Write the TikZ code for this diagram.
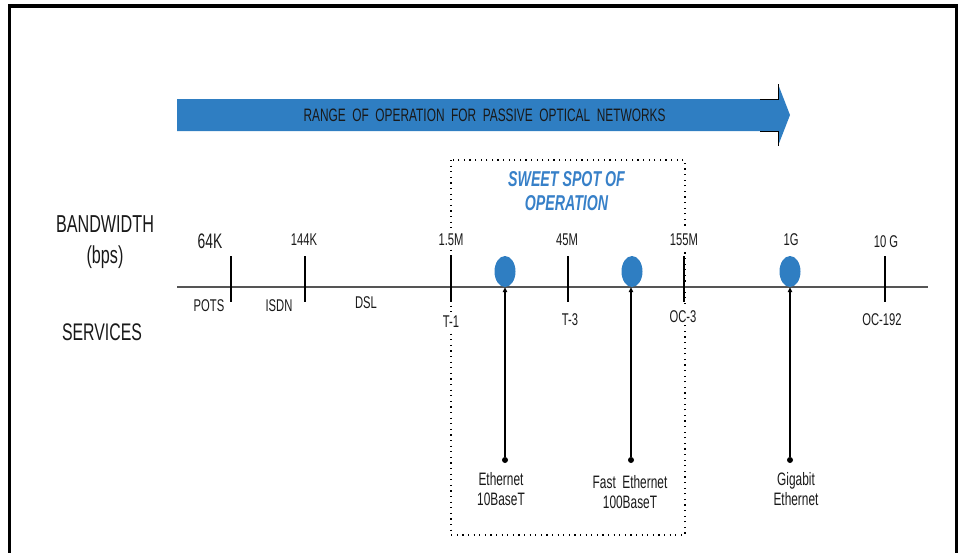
\documentclass[tikz,border=0pt]{standalone}
\usepackage{fontspec}
\setmainfont{Liberation Sans}[FakeStretch=0.66]
\usetikzlibrary{arrows.meta,shapes.geometric}
\definecolor{ponblue}{RGB}{47,126,194}
\definecolor{spotblue}{RGB}{55,128,200}
\definecolor{axisgray}{RGB}{85,85,85}
\definecolor{ink}{RGB}{25,25,25}
\newcommand{\fsz}[1]{\fontsize{#1}{#1}\selectfont}

\begin{document}
\begin{tikzpicture}[x=1pt,y=-1pt,
  lbl/.style={inner sep=0pt, anchor=base, text=ink, font=\fsz{17}},
  svc/.style={lbl, font=\fsz{17}},
  side/.style={lbl, font=\fsz{24.5}},
  masked/.style={fill=white, inner ysep=3pt, inner xsep=1pt},
  tickmark/.style={black, line width=1.4pt},
  techdot/.style={ellipse, fill=ponblue, inner sep=0pt, minimum width=21pt, minimum height=31pt},
  enddot/.style={circle, fill=black, inner sep=0pt, minimum size=6pt},
  conn/.style={black, line width=1.6pt, -{Triangle[length=5pt,width=4.5pt]}},
  techlbl/.style={inner sep=0pt, anchor=north, align=center, text=ink, font=\fontsize{18}{20}\selectfont}
]
\useasboundingbox (0,0) rectangle (959,552);

% outer frame (open at the bottom)
\draw[black, line width=3.5pt] (9.5,560) -- (9.5,6) -- (956.5,6) -- (956.5,560);

% range arrow
\fill[ponblue] (177,99) -- (778,99) -- (778,84) -- (790,115) -- (778,146) -- (778,131) -- (177,131) -- cycle;
\draw[black, line width=0.8pt] (760,99) -- (778,99) -- (778,84);
\draw[black, line width=0.8pt] (760,131) -- (778,131) -- (778,146);
\node[lbl, font=\fsz{18}] (range) at (484.5,121.5) {RANGE\ \ OF\ \ OPERATION\ \ FOR\ \ PASSIVE\ \ OPTICAL\ \ NETWORKS};

% sweet spot region
\draw[black, line width=1.2pt, dash pattern=on 1.2pt off 4.4pt] (451,160) rectangle (685,535);
\node[inner sep=0pt, anchor=north, align=center, text=spotblue,
      font=\fontsize{21.5}{24}\selectfont\bfseries\itshape] (spot) at (566.5,171) {SWEET SPOT OF\\OPERATION};

% side captions
\node[side] (bw) at (105,232) {BANDWIDTH};
\node[side] (bps) at (105,263) {(bps)};
\node[side, font=\fsz{24}] (services) at (102,340) {SERVICES};

% bandwidth axis
\coordinate (axL) at (177,287);
\coordinate (axR) at (928,287);
\draw[axisgray, line width=1.2pt] (axL) -- (axR);

% value labels (drawn before the ticks so the ticks stay on top)
\node[lbl, font=\fsz{21}] (l64k) at (210,248) {64K};
\node[lbl] (l144k) at (304,245) {144K};
\node[lbl, masked] (l15m) at (451,245) {1.5M};
\node[lbl] (l45m) at (567,245) {45M};
\node[lbl, masked] (l155m) at (684,245) {155M};
\node[lbl] (l1g) at (791,245) {1G};
\node[lbl] (l10g) at (886,247) {10 G};

% services
\node[svc] (pots) at (209,311) {POTS};
\node[svc] (isdn) at (279,311) {ISDN};
\node[svc] (dsl) at (366,308) {DSL};
\node[svc, masked] (t1) at (451,327) {T-1};
\node[svc] (t3) at (570,325) {T-3};
\node[svc, masked] (oc3) at (683,322) {OC-3};
\node[svc] (oc192) at (882,325) {OC-192};

% ticks
\foreach \name/\x in {t64k/231, t144k/305, t1m/451, t45m/568, t155m/684, t10g/885} {
  \coordinate (\name-top) at (\x,256);
  \coordinate (\name-bot) at (\x,302);
  \draw[tickmark] (\name-top) -- (\name-bot);
}

% ethernet technologies on the axis
\node[techdot] (e10) at (505,271.5) {};
\node[techdot] (e100) at (632,271.5) {};
\node[techdot] (e1g) at (790,271.5) {};

\node[enddot] (d10) at (505,460) {};
\node[enddot] (d100) at (631,460) {};
\node[enddot] (d1g) at (790,460) {};

\draw[conn] (d10) -- (e10.south);
\draw[conn] (d100) -- (d100 |- e100.south);
\draw[conn] (d1g) -- (e1g.south);

\node[techlbl] (n10) at (501,472) {Ethernet\\10BaseT};
\node[techlbl] (n100) at (630,475) {Fast\ \ Ethernet\\100BaseT};
\node[techlbl] (n1g) at (796,472) {Gigabit\\Ethernet};
\end{tikzpicture}
\end{document}
